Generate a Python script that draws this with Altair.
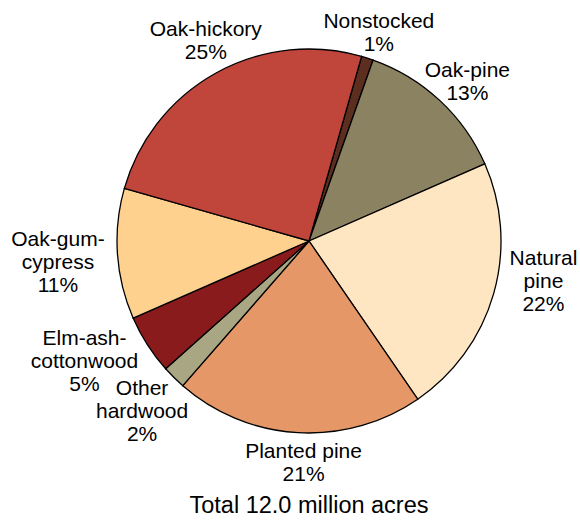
import math
import altair as alt
import pandas as pd

# Forest-type groups, clockwise from the Nonstocked slice
categories = ["Nonstocked", "Oak-pine", "Natural pine", "Planted pine",
              "Other hardwood", "Elm-ash-cottonwood", "Oak-gum-cypress", "Oak-hickory"]
shares = [1, 13, 22, 21, 2, 5, 11, 25]
label_lines = [
    ["Nonstocked", "1%"],
    ["Oak-pine", "13%"],
    ["Natural", "pine", "22%"],
    ["Planted pine", "21%"],
    ["Other", "hardwood", "2%"],
    ["Elm-ash-", "cottonwood", "5%"],
    ["Oak-gum-", "cypress", "11%"],
    ["Oak-hickory", "25%"],
]
colors = ["#5b2e20", "#8b8262", "#fee6c3", "#e59767",
          "#a9a683", "#8a1b1d", "#fed18e", "#c0453a"]
total_text = "Total 12.0 million acres"

# Layout
CX, CY, R = 309, 241, 192
START = math.radians(15.9)          # where the first slice begins (clockwise from 12 o'clock)
FONT = "Liberation Sans"
FS, LH = 21, 23
# label placement: distance from centre and small angular nudge (degrees) per slice
label_radius = [219, 224, 238, 223, 239, 255, 252, 225]
label_nudge = [0.9, 2.1, -6.0, -1.9, -0.4, 4.4, -1.1, 1.8]

df = pd.DataFrame({"category": categories, "share": shares, "order": range(len(categories))})

# label anchors follow each slice's middle; multi-line blocks are lifted so the
# block (not its first line) is centred on the anchor
cum = 0.0
lab_theta, lab_r = [], []
for s, n, rr, lines in zip(shares, label_nudge, label_radius, label_lines):
    mid = cum + s / 2
    ang = START + 2 * math.pi * mid / sum(shares) + math.radians(n)
    px = rr * math.sin(ang)
    py = -rr * math.cos(ang) - (len(lines) - 1) * LH / 2
    lab_theta.append(math.atan2(px, -py))
    lab_r.append(math.hypot(px, py))
    cum += s
labels = pd.DataFrame({
    "category": categories,
    "text": label_lines,
    "theta": lab_theta,
    "r": lab_r,
})

pie = alt.Chart(df).mark_arc(outerRadius=R, stroke="black", strokeWidth=1.3).encode(
    theta=alt.Theta("share:Q", stack=True,
                    scale=alt.Scale(range=[START, START + 2 * math.pi])),
    order=alt.Order("order:Q"),
    color=alt.Color("category:N", scale=alt.Scale(domain=categories, range=colors), legend=None),
    x=alt.value(CX),
    y=alt.value(CY),
)

text = alt.Chart(labels).mark_text(
    font=FONT, fontSize=FS, lineHeight=LH, align="center", baseline="middle", color="black"
).encode(
    theta=alt.Theta("theta:Q", scale=None),
    radius=alt.Radius("r:Q", scale=None),
    text="text",
    x=alt.value(CX),
    y=alt.value(CY),
)

title = alt.Chart(pd.DataFrame({"t": [total_text]})).mark_text(
    font=FONT, fontSize=23.5, align="center", baseline="alphabetic", color="black"
).encode(text="t:N", x=alt.value(309), y=alt.value(513))

chart = alt.layer(pie, text, title).properties(
    width=580, height=520, autosize=alt.AutoSizeParams(type="none"), padding=0
).configure_view(stroke=None)

chart.save("out.html", embed_options={"renderer": "svg", "actions": False})
